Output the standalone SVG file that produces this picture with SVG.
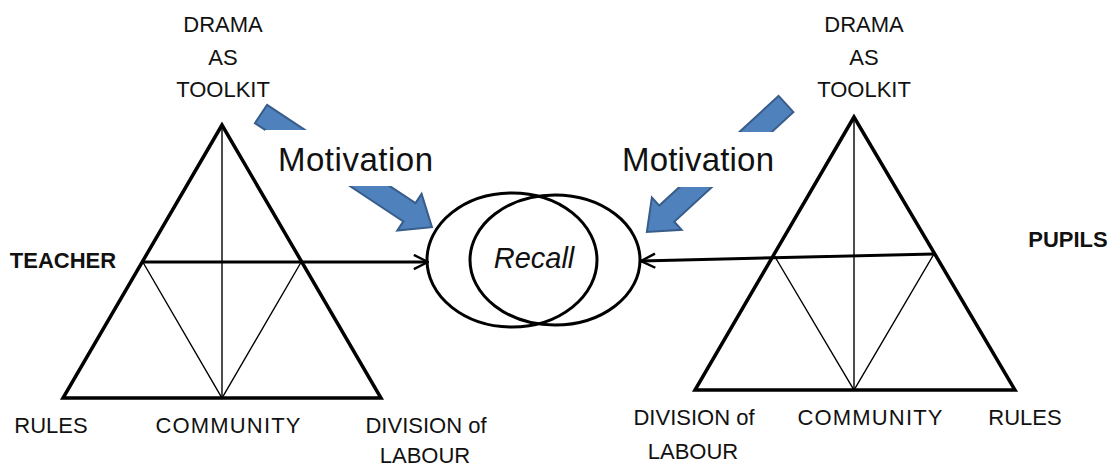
<svg xmlns="http://www.w3.org/2000/svg" width="1113" height="467" viewBox="0 0 1113 467">
  <style>
    .lbl { font-family: "Liberation Sans", Arial, sans-serif; font-size: 22px; fill: #111; text-anchor: middle; }
    .bold { font-weight: bold; }
    .mot { font-family: "Liberation Sans", Arial, sans-serif; font-size: 33px; fill: #111; }
    .recall { font-family: "Liberation Sans", Arial, sans-serif; font-size: 29px; font-style: italic; fill: #111; text-anchor: middle; }
    .outer { fill: none; stroke: #000; stroke-width: 3.5; stroke-linejoin: miter; }
    .inner { fill: none; stroke: #000; stroke-width: 1.4; }
    .link { fill: none; stroke: #000; stroke-width: 3; }
    .ring { fill: none; stroke: #000; stroke-width: 3; }
    .block { fill: #4F81BD; stroke: #385D8A; stroke-width: 2; stroke-linejoin: miter; }
    .mask { fill: #fff; }
  </style>
  <defs>
    <marker id="openHead" viewBox="0 0 12 12" refX="11" refY="6" markerWidth="17" markerHeight="17" markerUnits="userSpaceOnUse" orient="auto">
      <path d="M1,1 L11,6 L1,11" fill="none" stroke="#000" stroke-width="1.7"/>
    </marker>
  </defs>
  <rect width="1113" height="467" fill="#fff"/>

  <!-- block arrows feeding motivation into recall -->
  <g id="motivation-left">
    <polygon class="block" transform="translate(261,114) rotate(33.5)" points="0,-11 178,-11 178,-22 205,0 178,22 178,11 0,11"/>
    <rect class="mask" x="265" y="130" width="185" height="56"/>
    <text class="mot" x="278" y="171" textLength="155">Motivation</text>
  </g>
  <g id="motivation-right">
    <polygon class="block" transform="translate(786,104) rotate(137.4)" points="0,-11 162,-11 162,-22 189,0 162,22 162,11 0,11"/>
    <rect class="mask" x="612" y="132" width="181" height="55"/>
    <text class="mot" x="622" y="171" textLength="152">Motivation</text>
  </g>

  <!-- teacher activity triangle -->
  <g id="teacher-triangle">
    <polygon class="outer" points="222,125 63,398 381,398"/>
    <line class="inner" x1="222" y1="125" x2="222" y2="398"/>
    <polyline class="inner" points="142.5,261.5 222,398 301.5,261.5"/>
    <text class="lbl bold" x="63" y="268">TEACHER</text>
    <text class="lbl" x="223" y="32">DRAMA</text>
    <text class="lbl" x="223" y="65">AS</text>
    <text class="lbl" x="223" y="97">TOOLKIT</text>
    <text class="lbl" x="51" y="433">RULES</text>
    <text class="lbl" x="228" y="433" textLength="145">COMMUNITY</text>
    <text class="lbl" x="426" y="433">DIVISION of</text>
    <text class="lbl" x="425" y="463">LABOUR</text>
  </g>

  <!-- pupils activity triangle -->
  <g id="pupils-triangle">
    <polygon class="outer" points="854,117 695,390 1015,390"/>
    <line class="inner" x1="854" y1="117" x2="854" y2="390"/>
    <polyline class="inner" points="774.5,256 854,390 934,254"/>
    <text class="lbl bold" x="1068" y="247">PUPILS</text>
    <text class="lbl" x="864" y="32">DRAMA</text>
    <text class="lbl" x="864" y="65">AS</text>
    <text class="lbl" x="864" y="97">TOOLKIT</text>
    <text class="lbl" x="694" y="425">DIVISION of</text>
    <text class="lbl" x="693" y="459">LABOUR</text>
    <text class="lbl" x="870" y="425" textLength="145">COMMUNITY</text>
    <text class="lbl" x="1025" y="425">RULES</text>
  </g>

  <!-- overlapping recall circles -->
  <g id="recall">
    <ellipse class="ring" cx="512" cy="260" rx="85" ry="67"/>
    <ellipse class="ring" cx="555" cy="260" rx="85" ry="65"/>
    <text class="recall" x="534" y="268">Recall</text>
  </g>

  <!-- connectors from the triangles' midlines to recall -->
  <g id="connectors">
    <line class="link" x1="142.5" y1="262" x2="428" y2="262" marker-end="url(#openHead)"/>
    <line class="link" x1="934" y1="254" x2="641" y2="261" marker-end="url(#openHead)"/>
  </g>
</svg>
